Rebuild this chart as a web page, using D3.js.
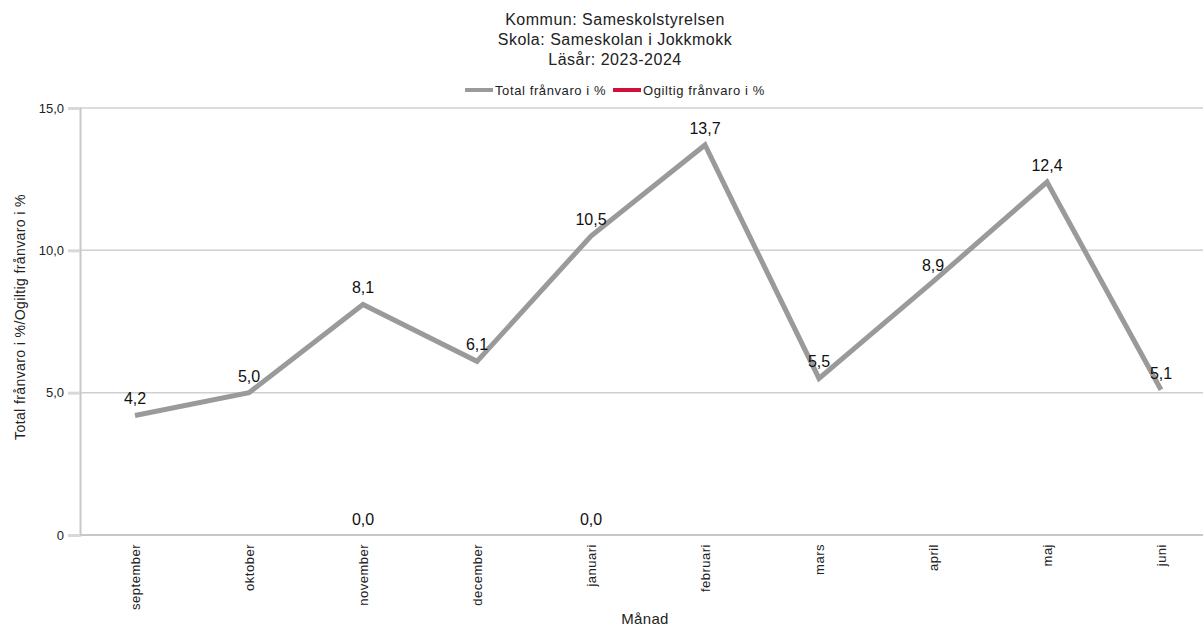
<!DOCTYPE html>
<html>
<head>
<meta charset="utf-8">
<script src="https://cdn.jsdelivr.net/npm/d3@7"></script>
<style>
  body { margin: 0; background: #fff; }
  svg { font-family: "Liberation Sans", Arial, sans-serif; }
</style>
</head>
<body>
<div id="chart"></div>
<script>
const months = ["september", "oktober", "november", "december", "januari",
                "februari", "mars", "april", "maj", "juni"];
const totalFranvaro = [4.2, 5.0, 8.1, 6.1, 10.5, 13.7, 5.5, 8.9, 12.4, 5.1];
const ogiltigFranvaro = [null, null, 0.0, null, 0.0, null, null, null, null, null];
const yTicks = [0, 5, 10, 15];
const titleLines = ["Kommun: Sameskolstyrelsen", "Skola: Sameskolan i Jokkmokk", "Läsår: 2023-2024"];
const seriesNames = ["Total frånvaro i %", "Ogiltig frånvaro i %"];
const seriesColors = ["#9a9a9a", "#d0103a"];

const width = 1203, height = 626;
const margin = {top: 108, left: 80, bottom: 91};

const svg = d3.select("#chart").append("svg")
    .attr("width", width)
    .attr("height", height);

const x = d3.scalePoint()
    .domain(months)
    .range([78, 1218])
    .padding(0.5);

const y = d3.scaleLinear()
    .domain([0, 15])
    .range([height - margin.bottom, margin.top]);

const fmt = v => v === 0 ? "0" : d3.format(".1f")(v).replace(".", ",");
const fmtLabel = v => d3.format(".1f")(v).replace(".", ",");

// gridlines
svg.append("g")
    .selectAll("line")
    .data(yTicks.filter(d => d > 0))
    .join("line")
    .attr("x1", margin.left)
    .attr("x2", width)
    .attr("y1", d => y(d))
    .attr("y2", d => y(d))
    .attr("stroke", "#d0d0d0")
    .attr("stroke-width", 1.5);

// y axis
const yAxis = svg.append("g")
    .attr("transform", "translate(" + margin.left + ",0)")
    .call(d3.axisLeft(y).tickValues(yTicks).tickFormat(fmt).tickSize(12).tickPadding(4));
yAxis.select(".domain").attr("stroke", "#c8c8c8").attr("stroke-width", 2);
yAxis.selectAll(".tick line").attr("stroke", "#d8d8d8").attr("stroke-width", 3);
yAxis.selectAll(".tick text").attr("font-size", 13).attr("fill", "#222")
    .attr("font-family", "Liberation Sans, Arial, sans-serif");

// x axis
const xAxis = svg.append("g")
    .attr("transform", "translate(0," + y(0) + ")")
    .call(d3.axisBottom(x).tickSize(0).tickPadding(0));
xAxis.select(".domain").attr("stroke", "#c8c8c8").attr("stroke-width", 2)
    .attr("d", "M" + margin.left + ",0H" + width);
xAxis.selectAll(".tick text")
    .attr("font-size", 13)
    .attr("letter-spacing", 0.5)
    .attr("fill", "#222")
    .attr("font-family", "Liberation Sans, Arial, sans-serif")
    .attr("text-anchor", "end")
    .attr("transform", "rotate(-90)")
    .attr("x", -9)
    .attr("y", 0)
    .attr("dy", "0.35em");

// axis titles
svg.append("text")
    .attr("x", 645)
    .attr("y", 624)
    .attr("text-anchor", "middle")
    .attr("font-size", 15)
    .attr("letter-spacing", 0.3)
    .attr("fill", "#222")
    .text("Månad");

svg.append("text")
    .attr("transform", "translate(25,317) rotate(-90)")
    .attr("text-anchor", "middle")
    .attr("font-size", 14)
    .attr("letter-spacing", 0.4)
    .attr("fill", "#222")
    .text("Total frånvaro i %/Ogiltig frånvaro i %");

// title
svg.append("g")
    .selectAll("text")
    .data(titleLines)
    .join("text")
    .attr("x", 615)
    .attr("y", (d, i) => 25 + i * 20)
    .attr("text-anchor", "middle")
    .attr("font-size", 16)
    .attr("letter-spacing", 0.5)
    .attr("fill", "#222")
    .text(d => d);

// legend
const legend = svg.append("g");
const legendX = [465, 613];
seriesNames.forEach((name, i) => {
    legend.append("rect")
        .attr("x", legendX[i])
        .attr("y", 88)
        .attr("width", 28)
        .attr("height", 4)
        .attr("fill", seriesColors[i]);
    legend.append("text")
        .attr("x", legendX[i] + 30)
        .attr("y", 95)
        .attr("font-size", 13)
        .attr("letter-spacing", 0.6)
        .attr("fill", "#222")
        .text(name);
});

// lines
const line = d3.line()
    .defined(d => d.v !== null)
    .x(d => x(d.m))
    .y(d => y(d.v));

const series = [totalFranvaro, ogiltigFranvaro].map(vals => months.map((m, i) => ({m: m, v: vals[i]})));

series.forEach((data, i) => {
    svg.append("path")
        .datum(data)
        .attr("fill", "none")
        .attr("stroke", seriesColors[i])
        .attr("stroke-width", 5)
        .attr("stroke-linejoin", "miter")
        .attr("d", line);
});

// value labels
svg.append("g")
    .selectAll("text")
    .data(series[0])
    .join("text")
    .attr("x", d => x(d.m))
    .attr("y", d => y(d.v) - 11)
    .attr("text-anchor", "middle")
    .attr("font-size", 16)
    .attr("fill", "#111")
    .text(d => fmtLabel(d.v));

svg.append("g")
    .selectAll("text")
    .data(series[1].filter(d => d.v !== null))
    .join("text")
    .attr("x", d => x(d.m))
    .attr("y", d => y(d.v) - 10)
    .attr("text-anchor", "middle")
    .attr("font-size", 16)
    .attr("fill", "#111")
    .text(d => fmtLabel(d.v));
</script>
</body>
</html>
